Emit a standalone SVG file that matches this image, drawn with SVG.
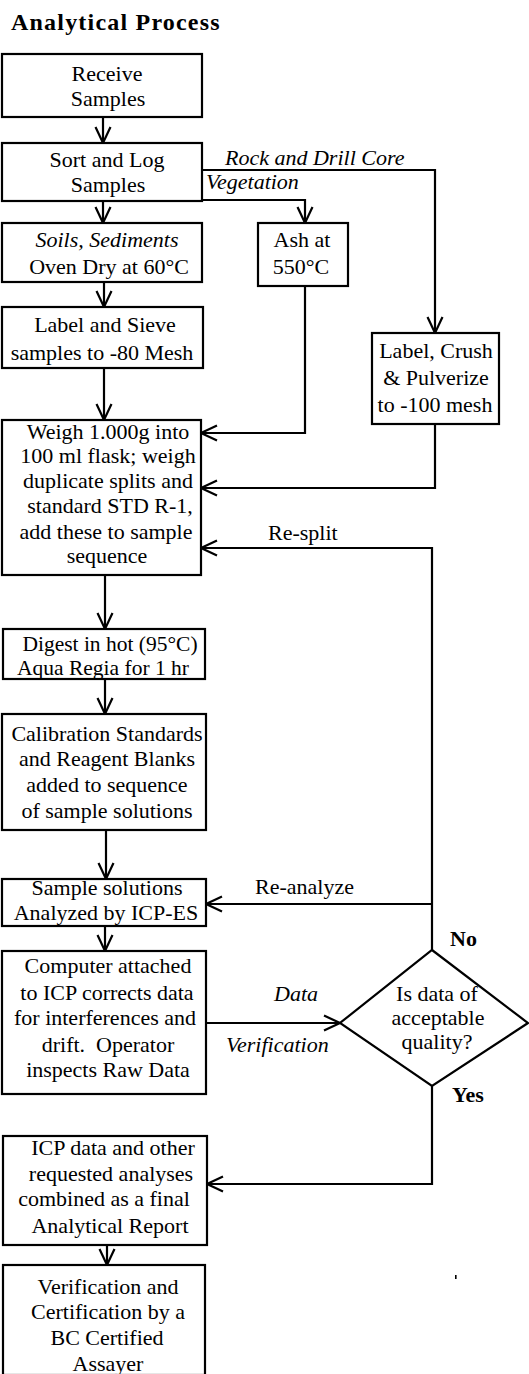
<svg xmlns="http://www.w3.org/2000/svg" width="529" height="1374" viewBox="0 0 529 1374">
  <style>
    .box { fill: #fff; stroke: #000; stroke-width: 2.2; }
    .t { font-family: "Liberation Serif", "Times New Roman", serif; font-size: 22px; fill: #000; text-anchor: middle; }
    .sm { font-size: 21.5px; }
    .lbl { font-family: "Liberation Serif", "Times New Roman", serif; font-size: 22px; fill: #000; }
    .it { font-style: italic; }
    .b { font-weight: bold; }
    .title { font-family: "Liberation Serif", "Times New Roman", serif; font-size: 24px; font-weight: bold; letter-spacing: 1.2px; fill: #000; }
    .conn { fill: none; stroke: #000; stroke-width: 2.2; }
  </style>
  <defs>
    <marker id="arr" viewBox="-19 -10 22 20" refX="0" refY="0" markerWidth="22" markerHeight="20" markerUnits="userSpaceOnUse" orient="auto">
      <path d="M-16,-7.5 L0,0 L-16,7.5" fill="none" stroke="#000" stroke-width="2.2"/>
    </marker>
  </defs>
  <rect width="529" height="1374" fill="#fff"/>

  <text class="title" x="11" y="30">Analytical Process</text>

  <!-- connectors -->
  <g id="connectors">
    <line class="conn" x1="103" y1="117" x2="103" y2="143" marker-end="url(#arr)"/>
    <line class="conn" x1="103" y1="201" x2="103" y2="223" marker-end="url(#arr)"/>
    <path class="conn" d="M202,170 H435 V333" marker-end="url(#arr)"/>
    <path class="conn" d="M202,200 H305 V223" marker-end="url(#arr)"/>
    <line class="conn" x1="104" y1="282" x2="104" y2="307" marker-end="url(#arr)"/>
    <line class="conn" x1="104" y1="368" x2="104" y2="420" marker-end="url(#arr)"/>
    <path class="conn" d="M305,286 V433 H201" marker-end="url(#arr)"/>
    <path class="conn" d="M435,424 V488 H201" marker-end="url(#arr)"/>
    <line class="conn" x1="105" y1="575" x2="105" y2="629" marker-end="url(#arr)"/>
    <line class="conn" x1="105" y1="679" x2="105" y2="714" marker-end="url(#arr)"/>
    <line class="conn" x1="106" y1="830" x2="106" y2="879" marker-end="url(#arr)"/>
    <path class="conn" d="M432,950 V548 H201" marker-end="url(#arr)"/>
    <path class="conn" d="M432,904 H206" marker-end="url(#arr)"/>
    <line class="conn" x1="105" y1="926" x2="105" y2="951" marker-end="url(#arr)"/>
    <path class="conn" d="M206,1023 H340" marker-end="url(#arr)"/>
    <path class="conn" d="M432,1086 V1184 H207" marker-end="url(#arr)"/>
    <line class="conn" x1="107" y1="1245" x2="107" y2="1265" marker-end="url(#arr)"/>

    <text class="lbl it" x="225" y="165">Rock and Drill Core</text>
    <text class="lbl it" x="206" y="189">Vegetation</text>
    <text class="lbl" x="268" y="540">Re-split</text>
    <text class="lbl" x="255" y="894">Re-analyze</text>
    <text class="lbl b" x="450" y="946">No</text>
    <text class="lbl it" x="296" y="1001" text-anchor="middle">Data</text>
    <text class="lbl it" x="226" y="1052">Verification</text>
    <text class="lbl b" x="452" y="1102">Yes</text>
  </g>

  <g id="receive">
    <rect class="box" x="2" y="54" width="200" height="63"/>
    <text class="t" x="107" y="81">Receive</text>
    <text class="t" x="108" y="106">Samples</text>
  </g>
  <g id="sort">
    <rect class="box" x="2" y="143" width="200" height="58"/>
    <text class="t" x="107" y="167">Sort and Log</text>
    <text class="t" x="108" y="192">Samples</text>
  </g>
  <g id="soils">
    <rect class="box" x="2" y="223" width="200" height="59"/>
    <text class="t it" x="107" y="247">Soils, Sediments</text>
    <text class="t" x="109" y="274">Oven Dry at 60°C</text>
  </g>
  <g id="ash">
    <rect class="box" x="258" y="223" width="90" height="63"/>
    <text class="t" x="302" y="247">Ash at</text>
    <text class="t" x="301" y="274">550°C</text>
  </g>
  <g id="sieve">
    <rect class="box" x="2" y="307" width="201" height="61"/>
    <text class="t" x="105" y="332">Label and Sieve</text>
    <text class="t" x="102" y="360">samples to -80 Mesh</text>
  </g>
  <g id="crush">
    <rect class="box" x="372" y="333" width="127" height="91"/>
    <text class="t" x="436" y="358">Label, Crush</text>
    <text class="t" x="436" y="385">&amp; Pulverize</text>
    <text class="t" x="435" y="412">to -100 mesh</text>
  </g>
  <g id="weigh">
    <rect class="box" x="2" y="420" width="199" height="155"/>
    <text class="t" x="108" y="439">Weigh 1.000g into</text>
    <text class="t" x="108" y="463">100 ml flask; weigh</text>
    <text class="t" x="108" y="488">duplicate splits and</text>
    <text class="t" x="110" y="513">standard STD R-1,</text>
    <text class="t" x="106" y="539">add these to sample</text>
    <text class="t" x="107" y="563">sequence</text>
  </g>
  <g id="digest">
    <rect class="box" x="3" y="629" width="202" height="50"/>
    <text class="t sm" x="110" y="651">Digest in hot (95°C)</text>
    <text class="t sm" x="103" y="675">Aqua Regia for 1 hr</text>
  </g>
  <g id="calibration">
    <rect class="box" x="2" y="714" width="204" height="116"/>
    <text class="t" x="107" y="741">Calibration Standards</text>
    <text class="t" x="107" y="766">and Reagent Blanks</text>
    <text class="t" x="107" y="792">added to sequence</text>
    <text class="t" x="107" y="818">of sample solutions</text>
  </g>
  <g id="analyze">
    <rect class="box" x="2" y="879" width="204" height="47"/>
    <text class="t" x="107" y="895">Sample solutions</text>
    <text class="t" x="106" y="920">Analyzed by ICP-ES</text>
  </g>
  <g id="computer">
    <rect class="box" x="2" y="951" width="204" height="143"/>
    <text class="t" x="108" y="973">Computer attached</text>
    <text class="t" x="107" y="1000">to ICP corrects data</text>
    <text class="t" x="105" y="1025">for interferences and</text>
    <text class="t" x="108" y="1052" xml:space="preserve">drift.  Operator</text>
    <text class="t" x="108" y="1077">inspects Raw Data</text>
  </g>
  <g id="decision">
    <polygon class="box" points="432,950 528,1023 432,1086 340,1023"/>
    <text class="t" x="437" y="1001">Is data of</text>
    <text class="t" x="438" y="1025">acceptable</text>
    <text class="t" x="437" y="1049">quality?</text>
  </g>
  <g id="report">
    <rect class="box" x="3" y="1136" width="204" height="109"/>
    <text class="t" x="113" y="1155">ICP data and other</text>
    <text class="t" x="111" y="1181">requested analyses</text>
    <text class="t" x="104" y="1206">combined as a final</text>
    <text class="t" x="110" y="1233">Analytical Report</text>
  </g>
  <g id="certify">
    <rect class="box" x="3" y="1265" width="202" height="110"/>
    <text class="t" x="108" y="1294">Verification and</text>
    <text class="t" x="108" y="1319">Certification by a</text>
    <text class="t" x="107" y="1345">BC Certified</text>
    <text class="t" x="108" y="1371">Assayer</text>
  </g>
  <rect x="455" y="1275" width="1.6" height="4" fill="#000"/>
</svg>
